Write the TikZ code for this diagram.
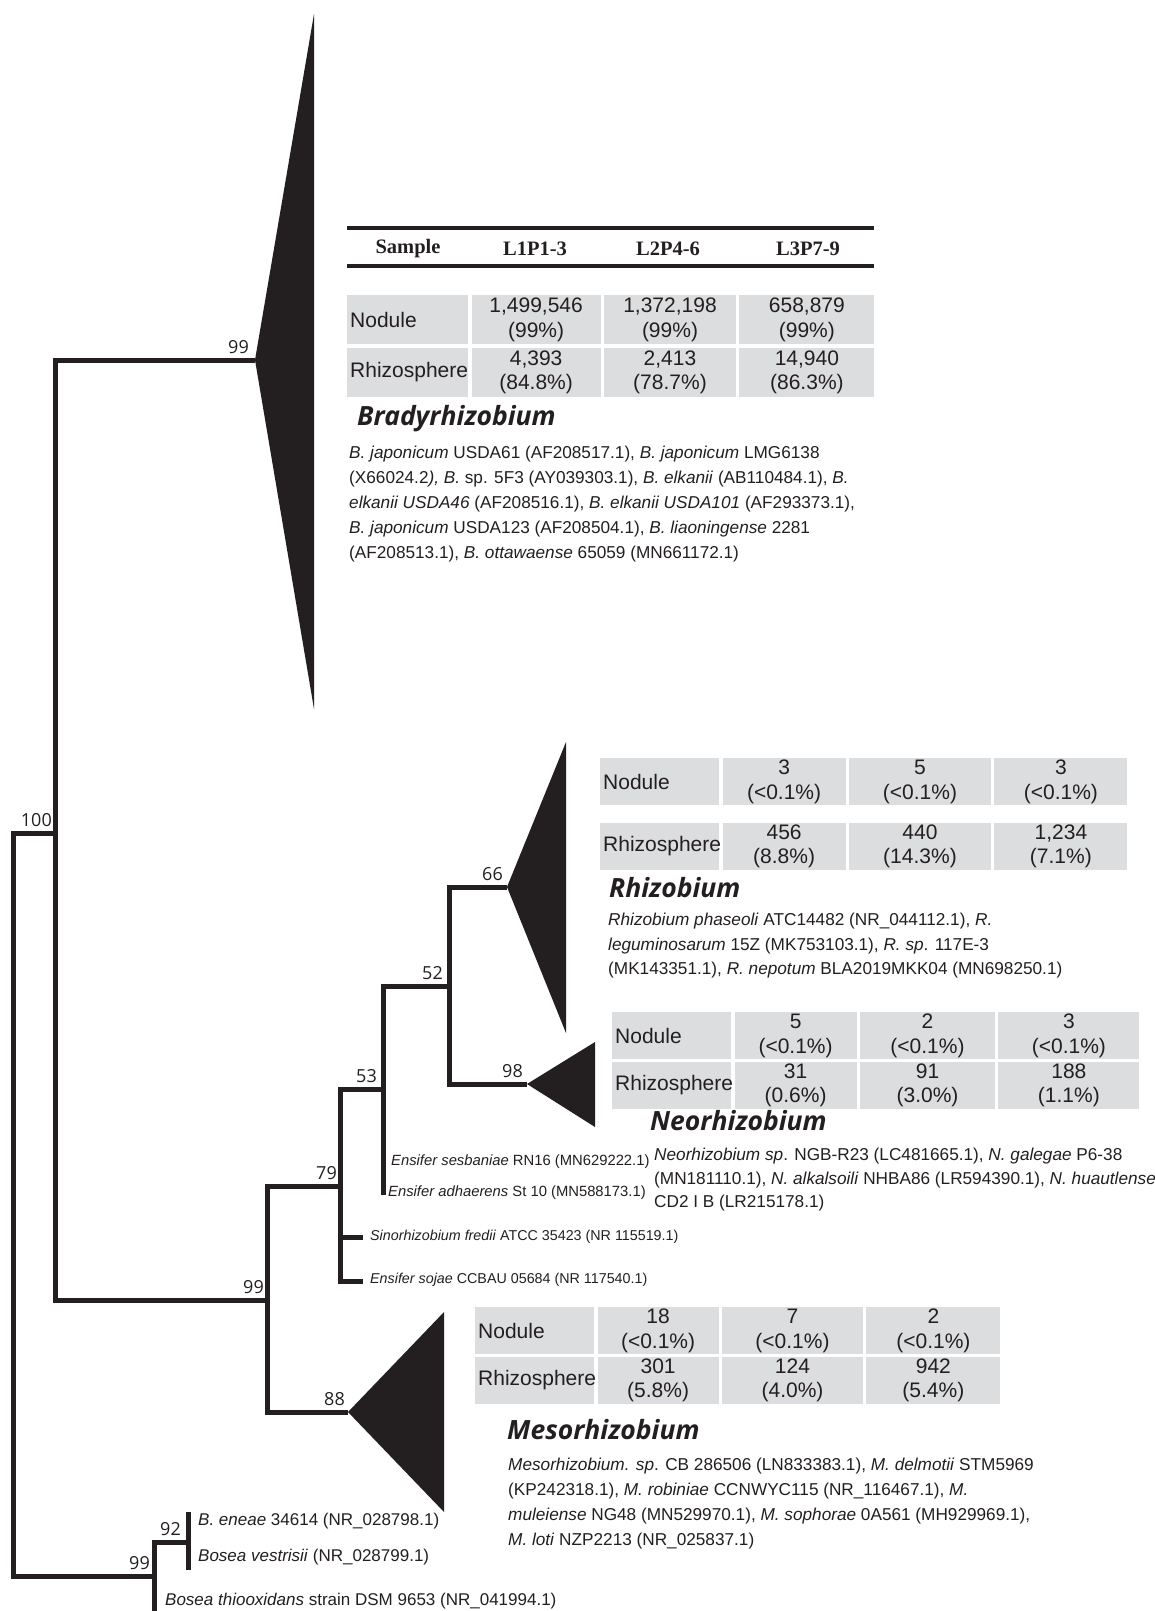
\documentclass[tikz,border=0pt]{standalone}
\usepackage{fontspec}
\setmainfont{Liberation Sans}
\newfontfamily\bootfont{Open Sans}
\newfontfamily\headfont{Liberation Serif}
\usetikzlibrary{positioning}

\definecolor{treeblack}{HTML}{231F20}
\definecolor{cellgrey}{HTML}{DCDDDE}

\tikzset{
  branch/.style={line width=5pt, draw=treeblack},
  clade/.style={fill=treeblack},
  boot/.style={font=\bootfont\fontsize{18}{18}\selectfont, anchor=base east, inner sep=0pt, text=treeblack},
  leaf/.style={font=\fontsize{14.3}{14.3}\selectfont, anchor=west, inner sep=0pt, text=treeblack},
  bigleaf/.style={leaf, font=\fontsize{17}{17}\selectfont},
  cell/.style={fill=cellgrey, anchor=north west, inner sep=0pt, align=center,
    minimum height=47pt, font=\fontsize{21}{24.5}\selectfont, text=treeblack},
  rowname/.style={cell, align=left, inner xsep=3pt},
  headtxt/.style={font=\headfont\bfseries\fontsize{20.5}{20.5}\selectfont, inner sep=0pt, text=treeblack},
  genus/.style={font=\bootfont\bfseries\itshape\fontsize{26.5}{26.5}\selectfont, anchor=west, inner sep=0pt, text=treeblack},
  strains/.style={font=\fontsize{17.2}{25}\selectfont, anchor=north west, align=left, inner sep=0pt, text=treeblack},
}

\begin{document}
\begin{tikzpicture}[x=1pt,y=-1pt]
  \fill[white] (0,0) rectangle (1155,1611);
  \useasboundingbox (0,0) rectangle (1155,1611);

  % tree nodes
  \coordinate (root) at (13,1200);
  \coordinate (n100) at (55,833);
  \coordinate (bradyTip) at (255,360);
  \coordinate (n99) at (267,1300);
  \coordinate (n79) at (340,1186);
  \coordinate (mesoTip) at (348,1412);
  \coordinate (n53) at (383,1089);
  \coordinate (sinoTip) at (363,1237);
  \coordinate (sojaeTip) at (363,1281);
  \coordinate (n52) at (449,986);
  \coordinate (adhTip) at (383,1195);
  \coordinate (rhizTip) at (507,887);
  \coordinate (neoTip) at (527,1084);
  \coordinate (boseaNode) at (154,1576);
  \coordinate (n92) at (188,1542);
  \coordinate (eneaeTip) at (188,1512);
  \coordinate (vestTip) at (188,1570);
  \coordinate (thioTip) at (154,1616);

  % branches
  \draw[branch] (n100) -| (root) |- (boseaNode);
  \draw[branch] (bradyTip) -| (n100) |- (n99);
  \draw[branch] (n79) -| (n99) |- (mesoTip);
  \draw[branch] (n53) -| (n79) |- (sojaeTip);
  \draw[branch] (n79 |- sinoTip) -- (sinoTip);
  \draw[branch] (n52) -| (n53) |- (adhTip);
  \draw[branch] (rhizTip) -| (n52) |- (neoTip);
  \draw[branch] (n92) -| (boseaNode) |- (thioTip);
  \draw[branch] (eneaeTip) -- (vestTip);

  % collapsed clades
  \fill[clade] (bradyTip) -- (314,14) -- (314,709) -- cycle;
  \fill[clade] (rhizTip) -- (566,742) -- (566,1033) -- cycle;
  \fill[clade] (neoTip) -- (595,1042) -- (595,1127) -- cycle;
  \fill[clade] (mesoTip) -- (444,1312) -- (444,1512) -- cycle;

  % bootstrap values
  \node[boot] (b100) at (52,826) {100};
  \node[boot] (bBrady) at (249,353) {99};
  \node[boot] (bEnsi) at (264,1293) {99};
  \node[boot] (b79) at (337,1179) {79};
  \node[boot] (b53) at (377,1082) {53};
  \node[boot] (b52) at (443,979) {52};
  \node[boot] (b66) at (503,880) {66};
  \node[boot] (b98) at (523,1077) {98};
  \node[boot] (b88) at (345,1405) {88};
  \node[boot] (b92) at (181,1535) {92};
  \node[boot] (bBosea) at (150,1569) {99};

  % single strains
  \node[leaf, font=\fontsize{14.8}{14.8}\selectfont] (sesb) at (391,1162) {\textit{Ensifer sesbaniae} RN16 (MN629222.1)};
  \node[leaf, font=\fontsize{14.8}{14.8}\selectfont] (adh) at (388,1193) {\textit{Ensifer adhaerens} St 10 (MN588173.1)};
  \node[leaf] (sino) at (370,1237) {\textit{Sinorhizobium fredii} ATCC 35423 (NR 115519.1)};
  \node[leaf] (sojae) at (370,1280) {\textit{Ensifer sojae} CCBAU 05684 (NR 117540.1)};
  \node[bigleaf] (eneae) at (198,1521) {\textit{B. eneae} 34614 (NR\_028798.1)};
  \node[bigleaf] (vest) at (198,1557) {\textit{Bosea vestrisii} (NR\_028799.1)};
  \node[bigleaf] (thio) at (165,1601) {\textit{Bosea thiooxidans} strain DSM 9653 (NR\_041994.1)};

  % table header
  \draw[line width=4.5pt, treeblack] (347,228) -- (874,228);
  \draw[line width=4.5pt, treeblack] (347,266) -- (874,266);
  \node[headtxt] (hSample) at (408,249) {Sample};
  \node[headtxt] (hL1) at (535,249) {L1P1-3};
  \node[headtxt] (hL2) at (668,249) {L2P4-6};
  \node[headtxt] (hL3) at (808,249) {L3P7-9};

  % Bradyrhizobium counts
  \node[rowname, text width=115pt, minimum height=49pt] (bn0) at (347,295) {Nodule};
  \node[cell, minimum width=129pt, minimum height=49pt, right=3pt of bn0] (bn1) {1,499,546\\(99\%)};
  \node[cell, minimum width=132pt, minimum height=49pt, right=3pt of bn1] (bn2) {1,372,198\\(99\%)};
  \node[cell, minimum width=135pt, minimum height=49pt, right=3pt of bn2] (bn3) {658,879\\(99\%)};
  \node[rowname, text width=115pt, minimum height=49pt, below=3pt of bn0] (br0) {Rhizosphere};
  \node[cell, minimum width=129pt, minimum height=49pt, right=3pt of br0] (br1) {4,393\\(84.8\%)};
  \node[cell, minimum width=132pt, minimum height=49pt, right=3pt of br1] (br2) {2,413\\(78.7\%)};
  \node[cell, minimum width=135pt, minimum height=49pt, right=3pt of br2] (br3) {14,940\\(86.3\%)};
  \node[genus] (bradyName) at (357,419) {Bradyrhizobium};
  \node[strains] (bradyList) at (349,446) {\textit{B. japonicum} USDA61 (AF208517.1), \textit{B. japonicum} LMG6138\\
    (X66024.2\textit{),} \textit{B.} sp. 5F3 (AY039303.1), \textit{B. elkanii} (AB110484.1), \textit{B.}\\
    \textit{elkanii USDA46} (AF208516.1), \textit{B. elkanii USDA101} (AF293373.1),\\
    \textit{B. japonicum} USDA123 (AF208504.1), \textit{B. liaoningense} 2281\\
    (AF208513.1), \textit{B. ottawaense} 65059 (MN661172.1)};

  % Rhizobium counts
  \node[rowname, text width=113pt] (rn0) at (600,758) {Nodule};
  \node[cell, minimum width=123pt, right=3pt of rn0] (rn1) {3\\(<0.1\%)};
  \node[cell, minimum width=142pt, right=3pt of rn1] (rn2) {5\\(<0.1\%)};
  \node[cell, minimum width=133pt, right=3pt of rn2] (rn3) {3\\(<0.1\%)};
  \node[rowname, text width=113pt, below=17pt of rn0] (rr0) {Rhizosphere};
  \node[cell, minimum width=123pt, right=3pt of rr0] (rr1) {456\\(8.8\%)};
  \node[cell, minimum width=142pt, right=3pt of rr1] (rr2) {440\\(14.3\%)};
  \node[cell, minimum width=133pt, right=3pt of rr2] (rr3) {1,234\\(7.1\%)};
  \node[genus] (rhizName) at (609,888) {Rhizobium};
  \node[strains, font=\fontsize{17.2}{24.5}\selectfont] (rhizList) at (608,913) {\textit{Rhizobium phaseoli} ATC14482 (NR\_044112.1), \textit{R.}\\
    \textit{leguminosarum} 15Z (MK753103.1), \textit{R. sp}. 117E-3\\
    (MK143351.1), \textit{R. nepotum} BLA2019MKK04 (MN698250.1)};

  % Neorhizobium counts
  \node[rowname, text width=113pt] (nn0) at (612,1012) {Nodule};
  \node[cell, minimum width=122pt, right=3pt of nn0] (nn1) {5\\(<0.1\%)};
  \node[cell, minimum width=135pt, right=3pt of nn1] (nn2) {2\\(<0.1\%)};
  \node[cell, minimum width=141pt, right=3pt of nn2] (nn3) {3\\(<0.1\%)};
  \node[rowname, text width=113pt, below=2pt of nn0] (nr0) {Rhizosphere};
  \node[cell, minimum width=122pt, right=3pt of nr0] (nr1) {31\\(0.6\%)};
  \node[cell, minimum width=135pt, right=3pt of nr1] (nr2) {91\\(3.0\%)};
  \node[cell, minimum width=141pt, right=3pt of nr2] (nr3) {188\\(1.1\%)};
  \node[genus] (neoName) at (650,1121) {Neorhizobium};
  \node[strains, font=\fontsize{17.2}{23.5}\selectfont] (neoList) at (654,1148) {\textit{Neorhizobium sp}. NGB-R23 (LC481665.1), \textit{N. galegae} P6-38\\
    (MN181110.1), \textit{N. alkalsoili} NHBA86 (LR594390.1), \textit{N. huautlense}\\
    CD2 I B (LR215178.1)};

  % Mesorhizobium counts
  \node[rowname, text width=113pt] (mn0) at (475,1307) {Nodule};
  \node[cell, minimum width=121pt, right=3pt of mn0] (mn1) {18\\(<0.1\%)};
  \node[cell, minimum width=141pt, right=3pt of mn1] (mn2) {7\\(<0.1\%)};
  \node[cell, minimum width=134pt, right=3pt of mn2] (mn3) {2\\(<0.1\%)};
  \node[rowname, text width=113pt, below=2pt of mn0] (mr0) {Rhizosphere};
  \node[cell, minimum width=121pt, right=3pt of mr0] (mr1) {301\\(5.8\%)};
  \node[cell, minimum width=141pt, right=3pt of mr1] (mr2) {124\\(4.0\%)};
  \node[cell, minimum width=134pt, right=3pt of mr2] (mr3) {942\\(5.4\%)};
  \node[genus] (mesoName) at (507,1430) {Mesorhizobium};
  \node[strains] (mesoList) at (508,1458) {\textit{Mesorhizobium. sp}. CB 286506 (LN833383.1), \textit{M. delmotii} STM5969\\
    (KP242318.1), \textit{M. robiniae} CCNWYC115 (NR\_116467.1), \textit{M.}\\
    \textit{muleiense} NG48 (MN529970.1), \textit{M. sophorae} 0A561 (MH929969.1),\\
    \textit{M. loti} NZP2213 (NR\_025837.1)};
\end{tikzpicture}
\end{document}
